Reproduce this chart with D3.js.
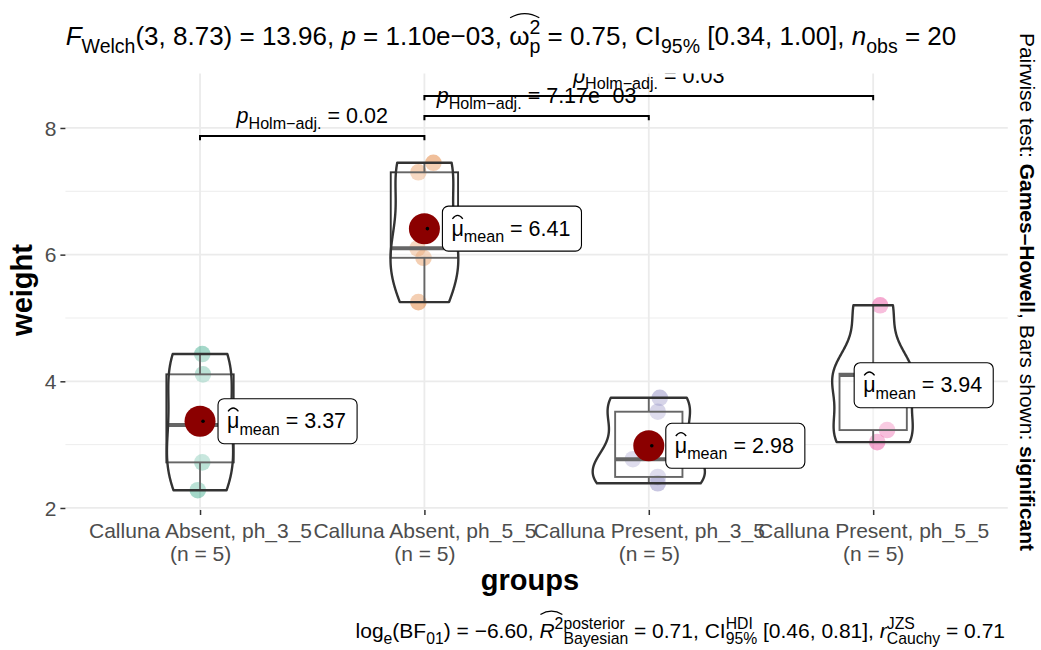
<!DOCTYPE html>
<html>
<head>
<meta charset="utf-8">
<script src="https://cdn.jsdelivr.net/npm/d3@7"></script>
<style>
  body { margin: 0; background: #fff; }
  text { font-family: "Liberation Sans", Arial, sans-serif; white-space: pre; }
</style>
</head>
<body>
<div id="chart"></div>
<script>
// data
const groups = ["Calluna Absent, ph_3_5", "Calluna Absent, ph_5_5", "Calluna Present, ph_3_5", "Calluna Present, ph_5_5"];
const nObs = [5, 5, 5, 5];
const weight = [
  [4.43, 4.11, 3.31, 2.72, 2.28],
  [7.45, 7.30, 6.10, 5.95, 5.25],
  [3.74, 3.52, 2.77, 2.49, 2.39],
  [5.20, 4.12, 4.10, 3.23, 3.04]
];
// horizontal jitter of each point, in category steps
const jitterX = [
  [0.01, 0.013, 0, 0.01, -0.01],
  [0.04, -0.027, -0.031, -0.004, -0.027],
  [0.049, 0.04, -0.071, 0.04, 0.04],
  [0.031, 0, 0, 0.062, 0.018]
];
const pairFrom = [0, 1, 1];
const pairTo   = [1, 2, 3];
const pairP    = ["0.02", "7.17e\u221203", "0.03"];
const pairY    = [7.874, 8.19, 8.505];
const yTicks = [2, 4, 6, 8];
const yMinor = [3, 5, 7];
const palette = ["#1B9E77", "#D95F02", "#7570B3", "#E7298A"];

const width = 1041, height = 650;
const panel = { l: 65.4, r: 1007.8, t: 73.5, b: 510 };

const svg = d3.select("#chart")
  .append("svg")
    .attr("width", width)
    .attr("height", height);

const x = d3.scalePoint()
  .domain(groups)
  .range([panel.l, panel.r])
  .padding(0.6);
const step = x.step();

const y = d3.scaleLinear()
  .domain([1.968, 8.86])
  .range([panel.b, panel.t]);

// rich text: main text with optional sub/superscripts and hats
function rich(parent, segs, fs, color) {
  const g = parent.append("g");
  const small = fs * 0.75;
  let cx = 0;
  segs.forEach(s => {
    const x0 = cx;
    if (s.t) {
      const t = g.append("text").attr("x", cx).attr("y", 0)
        .style("font-size", fs + "px").attr("fill", color).text(s.t);
      if (s.it) t.style("font-style", "italic");
      cx += t.node().getComputedTextLength();
    }
    let wSup = 0, wSub = 0;
    if (s.sup) {
      const t = g.append("text").attr("x", cx).attr("y", -fs * 0.42)
        .style("font-size", small + "px").attr("fill", color).text(s.sup);
      wSup = t.node().getComputedTextLength();
    }
    if (s.sub) {
      const t = g.append("text").attr("x", cx).attr("y", fs * 0.3)
        .style("font-size", small + "px").attr("fill", color).text(s.sub);
      wSub = t.node().getComputedTextLength();
    }
    if (s.hat) {
      const x1 = cx + wSup;
      const yb = -fs * s.hat, h = fs * 0.16;
      g.append("path")
        .attr("d", `M${x0 + 1},${yb}Q${(x0 + x1) / 2},${yb - 2 * h} ${x1 - 1},${yb}`)
        .attr("fill", "none").attr("stroke", color).attr("stroke-width", 1.3);
    }
    cx += Math.max(wSup, wSub);
  });
  return { g, w: cx };
}

// grid
const grid = svg.append("g");
grid.selectAll("line.minor")
  .data(yMinor)
  .join("line")
    .attr("x1", panel.l).attr("x2", panel.r)
    .attr("y1", d => y(d)).attr("y2", d => y(d))
    .attr("stroke", "#EBEBEB").attr("stroke-width", 0.9);
grid.selectAll("line.major")
  .data(yTicks)
  .join("line")
    .attr("x1", panel.l).attr("x2", panel.r)
    .attr("y1", d => y(d)).attr("y2", d => y(d))
    .attr("stroke", "#EBEBEB").attr("stroke-width", 1.8);
grid.selectAll("line.vert")
  .data(groups)
  .join("line")
    .attr("x1", d => x(d)).attr("x2", d => x(d))
    .attr("y1", panel.t).attr("y2", panel.b)
    .attr("stroke", "#EBEBEB").attr("stroke-width", 1.8);

// axes
svg.append("g")
  .attr("transform", `translate(${panel.l},0)`)
  .call(d3.axisLeft(y).tickValues(yTicks).tickFormat(d3.format("d")).tickSize(5).tickPadding(4))
  .call(g => g.select(".domain").remove())
  .call(g => g.selectAll(".tick line").attr("stroke", "#333").attr("stroke-width", 1.5))
  .call(g => g.selectAll(".tick text").attr("fill", "#4D4D4D").style("font-size", "21px").attr("dy", "0.35em"));

const xAxis = svg.append("g")
  .attr("transform", `translate(0,${panel.b})`)
  .call(d3.axisBottom(x).tickSize(5).tickFormat(""))
  .call(g => g.select(".domain").remove())
  .call(g => g.selectAll(".tick line").attr("stroke", "#333").attr("stroke-width", 1.5));
xAxis.selectAll(".tick").each(function(d, i) {
  const t = d3.select(this).append("text")
    .attr("fill", "#4D4D4D").attr("text-anchor", "middle").style("font-size", "21px");
  t.append("tspan").attr("x", 0).attr("y", 28).text(d);
  t.append("tspan").attr("x", 0).attr("y", 51).text(`(n = ${nObs[i]})`);
});

// kde helpers (ggplot-style violins, trimmed, scale = "area")
function bwNrd0(v) {
  const s = v.slice().sort(d3.ascending);
  const sd = d3.deviation(s);
  const iqr = d3.quantile(s, 0.75) - d3.quantile(s, 0.25);
  const lo = Math.min(sd, iqr / 1.34) || sd || 1;
  return 0.9 * lo * Math.pow(s.length, -0.2);
}
const dens = weight.map(v => {
  const bw = bwNrd0(v);
  const lo = d3.min(v), hi = d3.max(v);
  return d3.range(512).map(k => {
    const t = lo + (hi - lo) * k / 511;
    const d = d3.mean(v, u => Math.exp(-0.5 * ((t - u) / bw) ** 2)) / (bw * Math.sqrt(2 * Math.PI));
    return [t, d];
  });
});
const maxDens = d3.max(dens, g => d3.max(g, d => d[1]));

const plot = svg.append("g");

// points
weight.forEach((v, i) => {
  plot.selectAll(null)
    .data(v)
    .join("circle")
      .attr("cx", (d, j) => x(groups[i]) + jitterX[i][j] * step)
      .attr("cy", d => y(d))
      .attr("r", 8.3)
      .attr("fill", palette[i])
      .attr("fill-opacity", 0.4);
});

// boxplots
weight.forEach((v, i) => {
  const s = v.slice().sort(d3.ascending);
  const q1 = d3.quantile(s, 0.25), med = d3.quantile(s, 0.5), q3 = d3.quantile(s, 0.75);
  const iqr = q3 - q1;
  const wLo = d3.min(s.filter(d => d >= q1 - 1.5 * iqr));
  const wHi = d3.max(s.filter(d => d <= q3 + 1.5 * iqr));
  const cx = x(groups[i]), hw = 0.15 * step;
  const g = plot.append("g").attr("stroke", "#333").attr("stroke-width", 1.9);
  g.append("line").attr("x1", cx).attr("x2", cx).attr("y1", y(q3)).attr("y2", y(wHi));
  g.append("line").attr("x1", cx).attr("x2", cx).attr("y1", y(q1)).attr("y2", y(wLo));
  g.append("rect")
    .attr("x", cx - hw).attr("width", 2 * hw)
    .attr("y", y(q3)).attr("height", y(q1) - y(q3))
    .attr("fill", "#fff").attr("fill-opacity", 0.2);
  g.append("line").attr("x1", cx - hw).attr("x2", cx + hw)
    .attr("y1", y(med)).attr("y2", y(med)).attr("stroke-width", 4);
});

// violins
dens.forEach((d, i) => {
  const cx = x(groups[i]);
  const hw = 0.25 * step;
  const pts = d.map(p => [cx + p[1] / maxDens * hw, y(p[0])])
    .concat(d.slice().reverse().map(p => [cx - p[1] / maxDens * hw, y(p[0])]));
  plot.append("path")
    .attr("d", d3.line()(pts) + "Z")
    .attr("fill", "#fff").attr("fill-opacity", 0.25)
    .attr("stroke", "#333").attr("stroke-width", 2.4)
    .attr("stroke-linejoin", "round");
});

// means
const means = weight.map(v => d3.mean(v));
plot.selectAll("circle.mean")
  .data(means)
  .join("circle")
    .attr("class", "mean")
    .attr("cx", (d, i) => x(groups[i]))
    .attr("cy", d => y(d))
    .attr("r", 15.5)
    .attr("fill", "#8B0000");
plot.selectAll("circle.dot")
  .data(means)
  .join("circle")
    .attr("cx", (d, i) => x(groups[i]) + 3)
    .attr("cy", d => y(d))
    .attr("r", 1.8)
    .attr("fill", "#000");

// mean labels (repelled positions)
const labelShift = [18, 18, 17, -19];
means.forEach((m, i) => {
  const lg = svg.append("g");
  const box = lg.append("rect");
  const r = rich(lg, [{ t: "\u03bc", hat: 0.78, sub: "mean" }, { t: " = " + d3.format(".2f")(m) }], 21.5, "#000");
  const left = x(groups[i]) + labelShift[i];
  const cy = y(m);
  const bw = r.w + 20;
  box.attr("x", left).attr("y", cy - 22.5).attr("width", bw).attr("height", 45)
    .attr("rx", 6).attr("fill", "#fff").attr("stroke", "#000").attr("stroke-width", 1.1);
  r.g.attr("transform", `translate(${left + 9},${cy + 7})`);
});

// significance bars (clipped to panel)
svg.append("clipPath").attr("id", "pclip")
  .append("rect").attr("x", panel.l).attr("y", panel.t)
  .attr("width", panel.r - panel.l).attr("height", panel.b - panel.t);
const sig = svg.append("g").attr("clip-path", "url(#pclip)");
const tip = 0.01 * (y.domain()[1] - y.domain()[0]);
pairFrom.forEach((a, k) => {
  const x1 = x(groups[a]), x2 = x(groups[pairTo[k]]);
  sig.append("path")
    .attr("d", `M${x1},${y(pairY[k] - tip)}V${y(pairY[k])}H${x2}V${y(pairY[k] - tip)}`)
    .attr("fill", "none").attr("stroke", "#000").attr("stroke-width", 2);
  const r = rich(sig, [{ t: "p", it: true, sub: "Holm\u2212adj." }, { t: " = " + pairP[k] }], 21.5, "#000");
  r.g.attr("transform", `translate(${(x1 + x2) / 2 - r.w / 2},${y(pairY[k]) - 13})`);
});

// title
const title = rich(svg, [
  { t: "F", it: true, sub: "Welch" },
  { t: "(3, 8.73) = 13.96, " },
  { t: "p", it: true },
  { t: " = 1.10e\u221203, " },
  { t: "\u03c9", hat: 1.05, sup: "2", sub: "p" },
  { t: " = 0.75, CI", sub: "95%" },
  { t: " [0.34, 1.00], " },
  { t: "n", it: true, sub: "obs" },
  { t: " = 20" }
], 26, "#000");
title.g.attr("transform", `translate(${511 - title.w / 2},45)`);

// caption
const cap = rich(svg, [
  { t: "log", sub: "e" },
  { t: "(BF", sub: "01" },
  { t: ") = \u22126.60, " },
  { t: "R", it: true, hat: 1.12, sup: "2" },
  { t: "", sup: "posterior", sub: "Bayesian" },
  { t: " = 0.71, CI", sup: "HDI", sub: "95%" },
  { t: " [0.46, 0.81], " },
  { t: "r", it: true, sup: "JZS", sub: "Cauchy" },
  { t: " = 0.71" }
], 21, "#000");
cap.g.attr("transform", `translate(${1005 - cap.w},638)`);

// axis titles
svg.append("text")
  .attr("x", 530).attr("y", 590)
  .attr("text-anchor", "middle")
  .style("font-size", "29px").style("font-weight", "bold")
  .text("groups");
svg.append("text")
  .attr("transform", "translate(32,290) rotate(-90)")
  .attr("text-anchor", "middle")
  .style("font-size", "29px").style("font-weight", "bold")
  .text("weight");

// right-hand pairwise caption
const side = svg.append("text")
  .attr("transform", "translate(1020,292) rotate(90)")
  .attr("text-anchor", "middle")
  .style("font-size", "21px");
side.append("tspan").text("Pairwise test: ");
side.append("tspan").style("font-weight", "bold").text("Games\u2013Howell");
side.append("tspan").text(", Bars shown: ");
side.append("tspan").style("font-weight", "bold").text("significant");
</script>
</body>
</html>
